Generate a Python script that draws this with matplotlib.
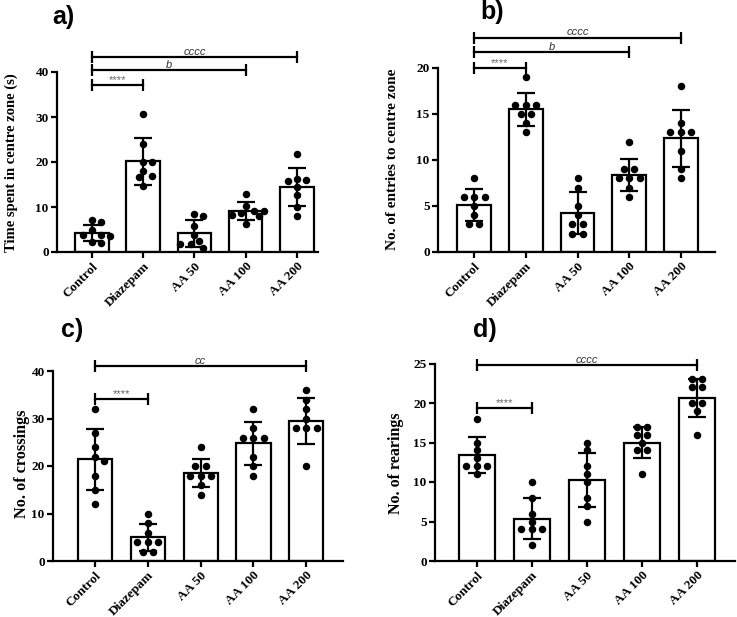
import numpy as np
import matplotlib
matplotlib.use("Agg")
import matplotlib.pyplot as plt

# ---------------- data ----------------
groups = ["Control", "Diazepam", "AA 50", "AA 100", "AA 200"]

time_in_centre = [
    [7.2, 6.6, 4.8, 3.8, 3.7, 3.5, 2.3, 2.0],
    [30.7, 24.0, 20.1, 19.9, 18.0, 16.9, 16.6, 14.7],
    [8.4, 7.9, 5.8, 3.8, 2.4, 1.8, 1.8, 1.0],
    [12.9, 10.2, 9.2, 9.2, 8.7, 8.2, 8.0, 6.2],
    [21.8, 16.2, 16.0, 15.8, 14.4, 12.7, 10.1, 7.9],
]
entries_centre = [
    [8, 6, 6, 6, 5, 4, 3, 3],
    [19, 16, 16, 16, 15, 15, 14, 13],
    [8, 7, 5, 4, 3, 3, 2, 2],
    [12, 9, 9, 8, 8, 8, 7, 6],
    [18, 14, 13, 13, 13, 11, 9, 8],
]
crossings = [
    [32, 27, 24, 22, 21, 18, 15, 12],
    [10, 8, 6, 4, 4, 4, 2, 2],
    [24, 20, 20, 18, 18, 18, 16, 14],
    [32, 28, 26, 26, 26, 22, 20, 18],
    [36, 34, 32, 30, 28, 28, 28, 20],
]
rearings = [
    [18, 15, 14, 13, 12, 12, 12, 11],
    [10, 8, 6, 5, 4, 4, 4, 2],
    [15, 14, 12, 11, 10, 8, 7, 5],
    [17, 17, 16, 16, 15, 14, 14, 11],
    [23, 23, 22, 22, 20, 20, 19, 16],
]

# significance annotations: (group i, group j, label)
sig_a = [(0, 1, "****"), (0, 3, "b"), (0, 4, "cccc")]
sig_b = [(0, 1, "****"), (0, 3, "b"), (0, 4, "cccc")]
sig_c = [(0, 1, "****"), (0, 4, "cc")]
sig_d = [(0, 1, "****"), (0, 4, "cccc")]

# ---------------- layout ----------------
W, H = 737, 617
fig = plt.figure(figsize=(W / 100, H / 100), dpi=100)

SERIF = ["Liberation Serif", "DejaVu Serif"]
SANS = ["Liberation Sans", "DejaVu Sans"]

panels = [
    dict(data=time_in_centre, sig=sig_a, sig_y=[37.1, 40.4, 43.3],
         left=57, right=318, y0=252, ppu=4.5, ytop=40, ystep=10, ylim=45,
         xlim=(-0.68, 4.41), ylabel="Time spent in centre zone (s)",
         ylab_xy=(11, 163), title="a)", title_xy=(52, 5), ylab_weight="bold",
         ylab_size=10.5),
    dict(data=entries_centre, sig=sig_b, sig_y=[20.0, 21.7, 23.3],
         left=438, right=715, y0=252, ppu=9.2, ytop=20, ystep=5, ylim=24.5,
         xlim=(-0.70, 4.66), ylabel="No. of entries to centre zone",
         ylab_xy=(392, 159), title="b)", title_xy=(480, 0), ylab_weight="bold",
         ylab_size=11),
    dict(data=crossings, sig=sig_c, sig_y=[34.1, 41.1],
         left=53, right=343, y0=561, ppu=4.75, ytop=40, ystep=10, ylim=42.5,
         xlim=(-0.80, 4.70), ylabel="No. of crossings",
         ylab_xy=(22, 464), title="c)", title_xy=(61, 318), ylab_weight="bold",
         ylab_size=11.7),
    dict(data=rearings, sig=sig_d, sig_y=[19.4, 24.8],
         left=435, right=735, y0=561, ppu=7.9, ytop=25, ystep=5, ylim=26,
         xlim=(-0.76, 4.69), ylabel="No. of rearings",
         ylab_xy=(396, 463), title="d)", title_xy=(473, 318), ylab_weight="bold",
         ylab_size=11.5),
]

LW = 1.6


def swarm_offsets(ax, vals, d_px=10.5, min_px=7.5, step_px=4.5):
    """Spread points horizontally so they do not overlap (GraphPad-like)."""
    vals = np.asarray(vals, float)
    offs = np.zeros(len(vals))
    placed = []
    to_px = ax.transData.transform
    px_per_x = to_px((1, 0))[0] - to_px((0, 0))[0]
    for v in sorted(set(vals), reverse=True):
        idx = np.where(vals == v)[0]
        m = len(idx)
        ypx = to_px((0, v))[1]
        base = [(k - (m - 1) / 2) * d_px for k in range(m)]
        shifts = [0.0]
        for k in range(1, 20):
            shifts += [k * step_px, -k * step_px]
        xs = base
        for s in shifts:
            cand = [b + s for b in base]
            if all(np.hypot(xc - px, ypx - py) >= min_px
                   for xc in cand for (px, py) in placed):
                xs = cand
                break
        for i, xc in zip(idx, xs):
            offs[i] = xc / px_per_x
            placed.append((xc, ypx))
    return offs


for p in panels:
    bottom_px = p["y0"]
    top_px = p["y0"] - p["ylim"] * p["ppu"]
    ax = fig.add_axes([p["left"] / W, 1 - bottom_px / H,
                       (p["right"] - p["left"]) / W, (bottom_px - top_px) / H])
    ax.set_xlim(*p["xlim"])
    ax.set_ylim(0, p["ylim"])

    x = np.arange(len(groups))
    means = [np.mean(v) for v in p["data"]]
    sds = [np.std(v, ddof=1) for v in p["data"]]

    ax.bar(x, means, width=0.65, color="white", edgecolor="black",
           linewidth=LW, zorder=2)
    ax.errorbar(x, means, yerr=sds, fmt="none", ecolor="black",
                elinewidth=LW, capsize=6.5, capthick=LW, zorder=4)
    for i, vals in enumerate(p["data"]):
        offs = swarm_offsets(ax, vals)
        ax.plot(i + offs, vals, "o", color="black", ms=4.4, mec="black",
                zorder=5, clip_on=False)

    # significance brackets
    for (i, j, lab), yy in zip(p["sig"], p["sig_y"]):
        ax.plot([i, j], [yy, yy], color="black", lw=LW, marker="|",
                ms=8, mew=LW, clip_on=False, zorder=6)
        is_star = lab.startswith("*")
        ax.text((i + j) / 2, yy + 0.15 / p["ppu"], lab, ha="center", va="bottom",
                fontsize=8,
                style="normal" if is_star else "italic",
                color="#666666" if is_star else "#333333",
                family=SANS, clip_on=False)

    # axes styling
    for s in ["top", "right"]:
        ax.spines[s].set_visible(False)
    ax.spines["left"].set_linewidth(LW)
    ax.spines["bottom"].set_linewidth(LW)
    ax.spines["left"].set_bounds(0, p["ytop"])
    yt = np.arange(0, p["ytop"] + 0.1, p["ystep"])
    ax.set_yticks(yt)
    ax.set_yticklabels([f"{int(t)}" for t in yt],
                       family=SERIF, fontweight="bold", fontsize=9.5)
    ax.set_xticks(x)
    ax.set_xticklabels(groups, rotation=45, ha="right", rotation_mode="anchor",
                       family=SERIF, fontweight="bold", fontsize=9.5)
    ax.tick_params(axis="both", direction="out", length=4, width=LW, pad=2)

    ax.set_ylabel(p["ylabel"], family=SERIF, fontweight=p["ylab_weight"],
                  fontsize=p["ylab_size"])
    ax.yaxis.set_label_coords(p["ylab_xy"][0] / W, 1 - p["ylab_xy"][1] / H,
                              transform=fig.transFigure)
    ax.yaxis.label.set_va("center")

    fig.text(p["title_xy"][0] / W, 1 - p["title_xy"][1] / H, p["title"],
             ha="left", va="top", fontsize=18, fontweight="bold", family=SANS)

fig.savefig("out.png", dpi=100, facecolor="white")
